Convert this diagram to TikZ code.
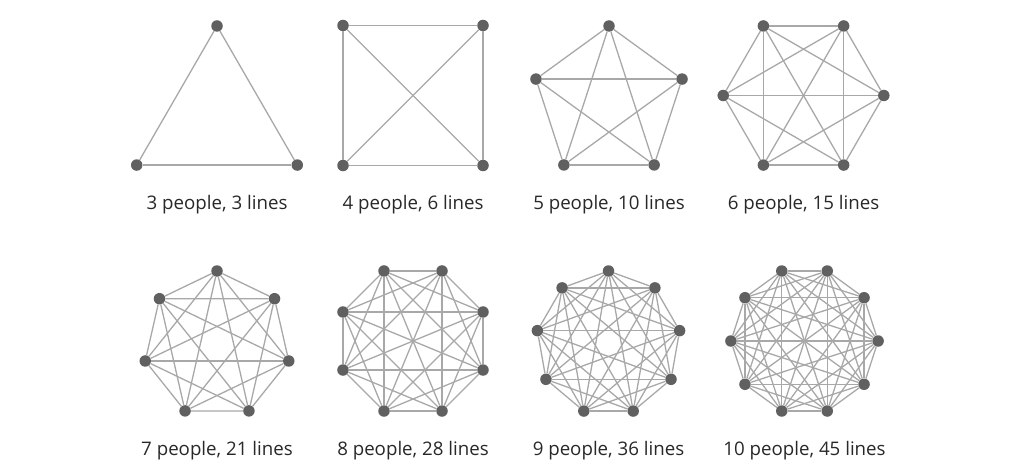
\documentclass[tikz,border=0pt]{standalone}
\usepackage{fontspec}
\setmainfont{Open Sans}
\usepackage{xcolor}
\definecolor{linegray}{RGB}{168,168,168}
\definecolor{dotgray}{RGB}{96,96,96}
\definecolor{textgray}{RGB}{40,40,40}
\usepackage{tikz}

\begin{document}
\begin{tikzpicture}[x=1pt, y=1pt,
    person/.style={circle, fill=dotgray, inner sep=0pt, minimum size=11.5pt},
    link/.style={draw=linegray, line width=1.3pt},
    caption/.style={anchor=base, text=textgray, font=\fontsize{18.7}{22}\selectfont}]
    \useasboundingbox (0,0) rectangle (1024,469);

    % people : centre x : centre y : radius : first angle : caption baseline
    \foreach \n/\cx/\cy/\r/\a/\ly [evaluate={\m=int(\n*(\n-1)/2);}] in {%
        3/217/350.3/92.7/90/259, 4/413/373.5/99/45/259,
        5/609/366.2/76.8/90/259, 6/803.5/373.5/80.3/0/259,
        7/217/124.4/73.6/90/14, 8/413/128/75.8/22.5/14,
        9/608.5/125.8/72.2/90/14, 10/804.5/128/73.6/0/14}
    {
        % the people
        \foreach \i in {1,...,\n}
            \node [person] (p\n-\i) at ([shift={(\cx,\cy)}] \a+360/\n*\i-360/\n:\r) {};
        % every pair gets a line
        \foreach \i in {2,...,\n} {
            \pgfmathtruncatemacro\k{\i-1}
            \foreach \j in {1,...,\k}
                \draw [link] (p\n-\i) -- (p\n-\j);
        }
        \node [caption] (cap\n) at (\cx, \ly) {\n{} people, \m{} lines};
    }
\end{tikzpicture}
\end{document}
